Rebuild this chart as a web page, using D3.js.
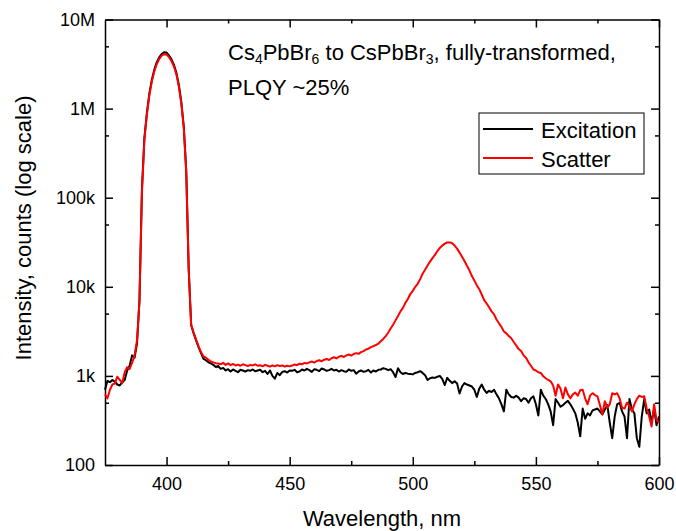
<!DOCTYPE html>
<html>
<head>
<meta charset="utf-8">
<script src="https://cdnjs.cloudflare.com/ajax/libs/d3/7.8.5/d3.min.js"></script>
<style>
  body { margin: 0; background: #fff; }
  svg { font-family: "Liberation Sans", Arial, sans-serif; }
  .axis path, .axis line { stroke: #000; stroke-width: 1.5; }
  .axis text { font-size: 18px; fill: #000; }
</style>
</head>
<body>
<div id="chart"></div>
<script>
// sampling grid, 1 nm steps
var wavelengths = d3.range(375, 601, 1);

var excitation = [
  700, 880, 850, 900, 860, 800, 780, 850, 900, 1150,
  1300, 1700, 1600, 2300, 7000, 125000, 470000, 890000, 1470000, 2090000,
  2720000, 3300000, 3760000, 4100000, 4280000, 4250000, 3950000, 3570000, 3100000, 2520000,
  1840000, 1180000, 630000, 200000, 15500, 3700, 3000, 2500, 2100, 1800,
  1550, 1500, 1420, 1380, 1330, 1260, 1290, 1200, 1230, 1150,
  1190, 1120, 1180, 1140, 1100, 1170, 1150, 1120, 1160, 1140,
  1180, 1130, 1150, 1170, 1100, 1140, 1050, 1150, 1000, 930,
  1080, 1020, 1110, 1130, 1090, 1150, 1140, 1170, 1100, 1120,
  1180, 1150, 1200, 1160, 1110, 1190, 1170, 1130, 1210, 1180,
  1140, 1160, 1200, 1150, 1170, 1120, 1160, 1130, 1110, 1180,
  1140, 1160, 1060, 1120, 1150, 1110, 1130, 1170, 1090, 1150,
  1120, 1170, 1180, 1220, 1200, 1160, 1190, 1100, 970, 1220,
  1100, 1050, 1080, 1060, 1050, 1040, 1080, 1100, 1130, 1080,
  1020, 900, 940, 960, 950, 980, 1000, 920, 790, 950,
  880, 830, 870, 820, 635, 760, 830, 800, 780, 760,
  700, 580, 720, 800, 700, 645, 680, 660, 700, 620,
  560, 480, 400, 700, 620, 580, 570, 600, 570, 520,
  560, 550, 500, 560, 590, 480, 360, 700, 600, 550,
  480, 400, 280, 550, 500, 450, 470, 500, 525, 480,
  430, 380, 300, 210, 430, 330, 380, 360, 410, 420,
  430, 400, 370, 420, 470, 300, 200, 350, 480, 500,
  400, 350, 200, 550, 420, 380, 200, 160, 350, 550,
  380, 420, 300, 430, 280, 350
];

var scatter = [
  620, 560, 700, 800, 820, 980, 900, 830, 1100, 1250,
  1200, 1400, 1700, 2500, 7000, 115000, 450000, 850000, 1400000, 2000000,
  2600000, 3150000, 3600000, 3920000, 4080000, 4050000, 3780000, 3420000, 2970000, 2420000,
  1760000, 1130000, 605000, 190000, 15500, 3750, 3050, 2550, 2150, 1850,
  1650, 1600, 1520, 1450, 1420, 1390, 1380, 1350, 1400, 1330,
  1380, 1320, 1360, 1310, 1340, 1300, 1350, 1320, 1290, 1330,
  1310, 1350, 1300, 1320, 1280, 1330, 1300, 1270, 1310, 1280,
  1320, 1290, 1310, 1270, 1300, 1280, 1310, 1340, 1320, 1370,
  1350, 1400, 1380, 1420, 1450, 1410, 1470, 1500, 1460, 1520,
  1550, 1510, 1580, 1620, 1570, 1640, 1680, 1630, 1700, 1740,
  1690, 1760, 1800, 1770, 1850, 1900, 1980, 2020, 2100, 2160,
  2220, 2300, 2450, 2600, 2800, 3050, 3400, 3750, 4200, 4700,
  5300, 5800, 6600, 7300, 8300, 9000, 10000, 10800, 12200, 14000,
  15500, 17300, 19200, 21000, 22800, 25200, 27300, 29000, 30500, 31400,
  31500, 30800, 29000, 26800, 24200, 21700, 19500, 17200, 15300, 13200,
  11800, 10400, 9400, 8200, 7100, 6500, 5900, 5300, 4900, 4300,
  3900, 3550, 3150, 3000, 2800, 2650, 2400, 2200, 2000, 1900,
  1700, 1600, 1420, 1300, 1180, 1150, 1100, 1080, 990, 940,
  900, 870, 780, 600, 800, 720, 560, 740, 620, 560,
  620, 650, 600, 690, 700, 560, 480, 600, 640, 610,
  590, 470, 370, 520, 440, 480, 640, 620, 640, 560,
  440, 430, 500, 460, 400, 480, 550, 600, 580, 590,
  430, 350, 270, 480, 320, 300
];

var seriesNames = ["Excitation", "Scatter"];
var seriesColors = ["#000000", "#ff0000"];

var xMajorTicks = [400, 450, 500, 550, 600];
var xMinorTicks = [425, 475, 525, 575];
var yMajorTicks = [100, 1000, 10000, 100000, 1000000, 10000000];
var yTickLabels = ["100", "1k", "10k", "100k", "1M", "10M"];
var yMinorTicks = [500, 5000, 50000, 500000, 5000000];

var margin = {top: 19.5, right: 17, bottom: 66, left: 105},
    width = 676 - margin.left - margin.right,
    height = 531 - margin.top - margin.bottom;

var svg = d3.select("#chart")
  .append("svg")
    .attr("width", 676)
    .attr("height", 531)
  .append("g")
    .attr("transform", "translate(" + margin.left + "," + margin.top + ")");

var x = d3.scaleLinear().domain([375, 600]).range([0, width]);
var y = d3.scaleLog().domain([100, 1e7]).range([height, 0]);

function noDomain(g) { g.select(".domain").remove(); }

// bottom + top
svg.append("g")
    .attr("class", "x axis")
    .attr("transform", "translate(0," + height + ")")
    .call(d3.axisBottom(x).tickValues(xMajorTicks).tickSizeInner(-8).tickSizeOuter(0).tickPadding(12));
svg.append("g")
    .attr("class", "x axis minor")
    .attr("transform", "translate(0," + height + ")")
    .call(d3.axisBottom(x).tickValues(xMinorTicks).tickSizeInner(-4).tickFormat(""))
    .call(noDomain);
svg.append("g")
    .attr("class", "x axis")
    .call(d3.axisTop(x).tickValues(xMajorTicks).tickSizeInner(-8).tickSizeOuter(0).tickFormat(""));
svg.append("g")
    .attr("class", "x axis minor")
    .call(d3.axisTop(x).tickValues(xMinorTicks).tickSizeInner(-4).tickFormat(""))
    .call(noDomain);

// left + right
svg.append("g")
    .attr("class", "y axis")
    .call(d3.axisLeft(y).tickValues(yMajorTicks)
      .tickFormat(function(d, i) { return yTickLabels[i]; })
      .tickSizeInner(-8).tickSizeOuter(0).tickPadding(10));
svg.append("g")
    .attr("class", "y axis minor")
    .call(d3.axisLeft(y).tickValues(yMinorTicks).tickSizeInner(-4).tickFormat(""))
    .call(noDomain);
svg.append("g")
    .attr("class", "y axis")
    .attr("transform", "translate(" + width + ",0)")
    .call(d3.axisRight(y).tickValues(yMajorTicks).tickSizeInner(-8).tickSizeOuter(0).tickFormat(""));
svg.append("g")
    .attr("class", "y axis minor")
    .attr("transform", "translate(" + width + ",0)")
    .call(d3.axisRight(y).tickValues(yMinorTicks).tickSizeInner(-4).tickFormat(""))
    .call(noDomain);

// curves
var line = d3.line()
    .x(function(d, i) { return x(wavelengths[i]); })
    .y(function(d) { return y(d); });

[excitation, scatter].forEach(function(s, k) {
  svg.append("path")
    .datum(s)
    .attr("fill", "none")
    .attr("stroke", seriesColors[k])
    .attr("stroke-width", 2)
    .attr("stroke-linejoin", "round")
    .attr("d", line);
});

// axis titles
svg.append("text")
    .attr("x", 382 - margin.left)
    .attr("y", 526 - margin.top)
    .attr("text-anchor", "middle")
    .style("font-size", "22px")
    .text("Wavelength, nm");

svg.append("text")
    .attr("transform", "translate(" + (31 - margin.left) + "," + (228 - margin.top) + ") rotate(-90)")
    .attr("text-anchor", "middle")
    .style("font-size", "22px")
    .text("Intensity, counts (log scale)");

// annotation
var note = svg.append("text")
    .attr("x", 228 - margin.left)
    .attr("y", 60 - margin.top)
    .style("font-size", "22px");
note.append("tspan").text("Cs");
note.append("tspan").attr("dy", 4).style("font-size", "14px").text("4");
note.append("tspan").attr("dy", -4).text("PbBr");
note.append("tspan").attr("dy", 4).style("font-size", "14px").text("6");
note.append("tspan").attr("dy", -4).text(" to CsPbBr");
note.append("tspan").attr("dy", 4).style("font-size", "14px").text("3");
note.append("tspan").attr("dy", -4).text(", fully-transformed,");

svg.append("text")
    .attr("x", 228 - margin.left)
    .attr("y", 95 - margin.top)
    .style("font-size", "22px")
    .text("PLQY ~25%");

// legend
var legend = svg.append("g")
    .attr("transform", "translate(" + (479 - margin.left) + "," + (113 - margin.top) + ")");
legend.append("rect")
    .attr("width", 165)
    .attr("height", 61)
    .attr("fill", "#fff")
    .attr("stroke", "#000")
    .attr("stroke-width", 1);
seriesNames.forEach(function(name, k) {
  legend.append("line")
    .attr("x1", 4).attr("x2", 54)
    .attr("y1", 16 + k * 29).attr("y2", 16 + k * 29)
    .attr("stroke", seriesColors[k])
    .attr("stroke-width", 2);
  legend.append("text")
    .attr("x", 62)
    .attr("y", 25 + k * 29)
    .style("font-size", "22px")
    .text(name);
});
</script>
</body>
</html>
